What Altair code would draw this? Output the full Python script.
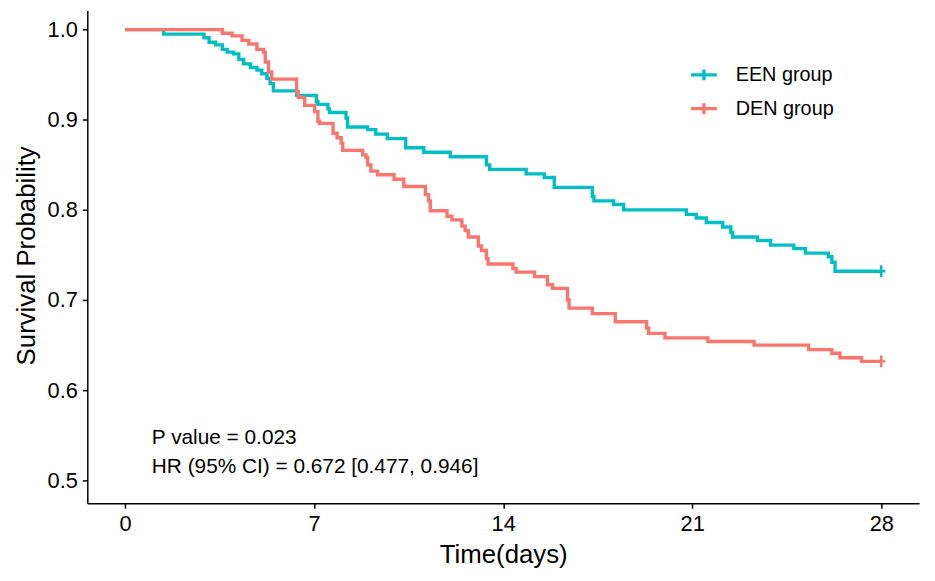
import altair as alt
import pandas as pd

# ---- data ----
een_time = [0, 1.43, 2.92, 3.11, 3.35, 3.60, 3.78, 4.02, 4.21, 4.39, 4.64, 4.88, 5.06,
            5.25, 5.37, 5.49, 6.35, 7.08, 7.14, 7.51, 7.57, 8.18, 8.24, 8.98, 9.28,
            9.71, 10.39, 11.06, 12.04, 13.38, 13.50, 14.85, 15.52, 15.89, 17.30, 17.36,
            18.09, 18.46, 20.78, 21.15, 21.52, 22.13, 22.43, 22.50, 23.41, 23.90, 24.76,
            25.19, 26.04, 26.17, 26.29, 28.0]
een_surv = [1.0, 0.995, 0.991, 0.986, 0.983, 0.978, 0.975, 0.973, 0.967, 0.962, 0.958, 0.955, 0.951,
            0.946, 0.940, 0.932, 0.927, 0.920, 0.917, 0.912, 0.908, 0.902, 0.892, 0.889, 0.884,
            0.879, 0.869, 0.864, 0.859, 0.850, 0.845, 0.840, 0.836, 0.825, 0.815, 0.810,
            0.806, 0.800, 0.795, 0.791, 0.786, 0.781, 0.775, 0.770, 0.766, 0.761, 0.757,
            0.752, 0.748, 0.742, 0.732, 0.732]

den_time = [0, 3.60, 3.96, 4.33, 4.58, 4.88, 5.13, 5.19, 5.31, 5.43, 6.35, 6.41, 6.65,
            7.02, 7.14, 7.20, 7.70, 7.85, 8.00, 8.06, 8.80, 8.92, 8.98, 9.10, 9.35, 9.96,
            10.32, 11.12, 11.24, 11.30, 11.92, 12.10, 12.47, 12.59, 12.71, 13.08, 13.20,
            13.38, 13.44, 14.36, 14.48, 15.16, 15.64, 15.83, 16.38, 16.44, 17.30, 18.15,
            19.31, 19.38, 19.99, 21.58, 23.29, 25.31, 26.17, 26.47, 27.27, 28.0]
den_surv = [1.0, 0.996, 0.993, 0.988, 0.984, 0.978, 0.975, 0.964, 0.953, 0.945, 0.931, 0.925, 0.916,
            0.909, 0.898, 0.896, 0.885, 0.880, 0.874, 0.866, 0.861, 0.858, 0.850, 0.843, 0.839, 0.834,
            0.826, 0.817, 0.810, 0.799, 0.793, 0.789, 0.782, 0.777, 0.770, 0.760, 0.755,
            0.746, 0.740, 0.735, 0.731, 0.726, 0.717, 0.713, 0.700, 0.691, 0.685, 0.676,
            0.669, 0.663, 0.658, 0.654, 0.650, 0.645, 0.641, 0.636, 0.632, 0.632]

groups = ["EEN group", "DEN group"]
colors = ["#00BFC4", "#F8766D"]

x_ticks = [0, 7, 14, 21, 28]
y_ticks = [0.5, 0.6, 0.7, 0.8, 0.9, 1.0]

censor_time = [28.0, 28.0]
censor_surv = [0.732, 0.632]

annot_text = ["P value = 0.023", "HR (95% CI) = 0.672 [0.477, 0.946]"]
annot_x = [0.99, 0.99]
annot_y = [0.5407, 0.5077]

# ---- tables ----
curves = pd.concat([
    pd.DataFrame({"time": een_time, "surv": een_surv, "group": groups[0]}),
    pd.DataFrame({"time": den_time, "surv": den_surv, "group": groups[1]}),
])
censor = pd.DataFrame({"time": censor_time, "surv": censor_surv, "group": groups})
annot = pd.DataFrame({"text": annot_text, "x": annot_x, "y": annot_y})

FONT = "Liberation Sans"
xscale = alt.Scale(domain=[-1.4, 29.4], nice=False, zero=False)
yscale = alt.Scale(domain=[0.4747, 1.0212], nice=False, zero=False)
cscale = alt.Scale(domain=groups, range=colors)

legend_path = "M-1,0L1,0M0,-0.42L0,0.42"

lines = alt.Chart(curves).mark_line(interpolate="step-after", strokeWidth=3.4).encode(
    x=alt.X("time:Q", scale=xscale,
            axis=alt.Axis(values=x_ticks, title="Time(days)", titleY=60,
                          titleBaseline="alphabetic", labelBaseline="alphabetic",
                          labelPadding=23, tickSize=5)),
    y=alt.Y("surv:Q", scale=yscale,
            axis=alt.Axis(values=y_ticks, format=".1f", title="Survival Probability",
                          titleX=-53, titleY=247, titleBaseline="alphabetic",
                          tickSize=5, labelPadding=5)),
    color=alt.Color("group:N", scale=cscale,
                    legend=alt.Legend(title=None, orient="none", legendX=607, legendY=50,
                                      symbolType=legend_path, symbolSize=676,
                                      symbolStrokeWidth=3.4, labelFontSize=20,
                                      labelOffset=17, rowPadding=6, padding=0,
                                      labelFont=FONT, labelColor="black")),
    order=alt.Order("time:Q"),
)

marks = alt.Chart(censor).mark_point(
    shape="M-0.7,0L0.7,0M0,-1L0,1", size=144, filled=False, strokeWidth=2.5, opacity=1
).encode(
    x=alt.X("time:Q", scale=xscale),
    y=alt.Y("surv:Q", scale=yscale),
    color=alt.Color("group:N", scale=cscale, legend=None),
)

texts = alt.Chart(annot).mark_text(
    align="left", baseline="alphabetic", fontSize=21, font=FONT, color="black"
).encode(
    x=alt.X("x:Q", scale=xscale),
    y=alt.Y("y:Q", scale=yscale),
    text="text:N",
)

chart = alt.layer(lines, marks, texts).properties(
    width=839, height=497,
    autosize=alt.AutoSizeParams(type="none"),
    padding={"left": 80, "top": 0, "right": 8, "bottom": 76},
).configure(background="white").configure_view(stroke=None).configure_axis(
    grid=False, domainColor="black", domainWidth=1.5, tickColor="black", tickWidth=1.5,
    labelFont=FONT, labelFontSize=22, labelColor="black",
    titleFont=FONT, titleFontSize=26, titleColor="black", titleFontWeight="normal",
)

chart.save("out.html", embed_options={"renderer": "svg", "actions": False})
